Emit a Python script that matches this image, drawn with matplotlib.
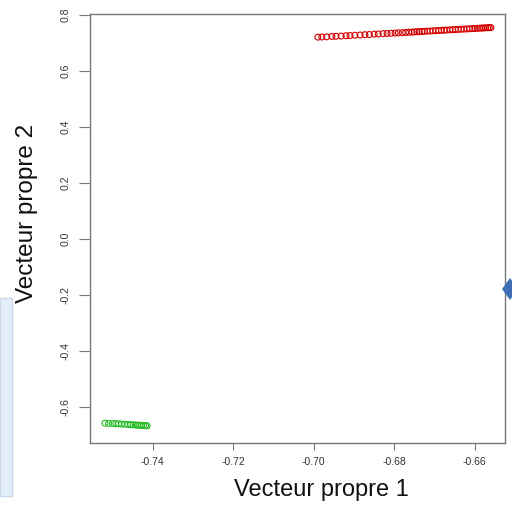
import matplotlib
matplotlib.use("Agg")
import matplotlib.pyplot as plt
from matplotlib.patches import Rectangle, Polygon

# ---- data ----
red_x = [-0.6990, -0.6980, -0.6968, -0.6955, -0.6945, -0.6932, -0.6920, -0.6910,
         -0.6898, -0.6885, -0.6873, -0.6862, -0.6850, -0.6840, -0.6828, -0.6818,
         -0.6808, -0.6798, -0.6790, -0.6780, -0.6772, -0.6764, -0.6756, -0.6750,
         -0.6744, -0.6738, -0.6731, -0.6725, -0.6718, -0.6711, -0.6704, -0.6697,
         -0.6690, -0.6683, -0.6676, -0.6670, -0.6662, -0.6655, -0.6648, -0.6641,
         -0.6634, -0.6627, -0.6620, -0.6613, -0.6606, -0.6600, -0.6594, -0.6588,
         -0.6583, -0.6578, -0.6573, -0.6568, -0.6564, -0.6560]
red_y = [0.7212, 0.7218, 0.7225, 0.7238, 0.7244, 0.7252, 0.7265, 0.7270,
         0.7281, 0.7290, 0.7302, 0.7308, 0.7320, 0.7326, 0.7338, 0.7344,
         0.7352, 0.7360, 0.7368, 0.7374, 0.7382, 0.7388, 0.7394, 0.7400,
         0.7406, 0.7410, 0.7416, 0.7421, 0.7428, 0.7432, 0.7438, 0.7444,
         0.7450, 0.7455, 0.7462, 0.7466, 0.7474, 0.7478, 0.7485, 0.7490,
         0.7496, 0.7501, 0.7508, 0.7512, 0.7519, 0.7523, 0.7529, 0.7533,
         0.7538, 0.7542, 0.7546, 0.7550, 0.7553, 0.7556]
green_x = [-0.7519, -0.7510, -0.7500, -0.7492, -0.7485, -0.7478, -0.7470, -0.7462,
           -0.7455, -0.7449, -0.7443, -0.7438, -0.7433, -0.7428, -0.7423, -0.7418,
           -0.7414]
green_y = [-0.6580, -0.6588, -0.6594, -0.6600, -0.6606, -0.6612, -0.6620, -0.6628,
           -0.6634, -0.6640, -0.6646, -0.6652, -0.6656, -0.6662, -0.6666, -0.6670,
           -0.6674]
x_ticks = [-0.74, -0.72, -0.70, -0.68, -0.66]
x_ticklabels = ["-0.74", "-0.72", "-0.70", "-0.68", "-0.66"]
y_ticks = [-0.6, -0.4, -0.2, 0.0, 0.2, 0.4, 0.6, 0.8]
y_ticklabels = ["-0.6", "-0.4", "-0.2", "0.0", "0.2", "0.4", "0.6", "0.8"]
x_label = "Vecteur propre 1"
y_label = "Vecteur propre 2"

plt.rcParams['font.family'] = ['Liberation Sans', 'DejaVu Sans']

W, H = 512, 505
fig = plt.figure(figsize=(W / 100, H / 100), dpi=100)

# decorative slide elements
fig.patches.append(Rectangle((0, 1 - 496 / H), 12 / W, (496 - 298) / H,
                             transform=fig.transFigure, facecolor="#e3eef8",
                             edgecolor="#c9d9ea", linewidth=1, zorder=0))
cx, cy = 510 / W, 1 - 289 / H
fig.patches.append(Polygon([(cx - 8 / W, cy), (cx, cy + 11 / H), (cx + 8 / W, cy), (cx, cy - 11 / H)],
                           closed=True, transform=fig.transFigure,
                           facecolor="#3d6db3", edgecolor="none", zorder=0))

ax = fig.add_axes([90 / W, 1 - 443 / H, 415 / W, 429 / H])
ax.scatter(red_x, red_y, s=18, facecolors="none", edgecolors="#d40000", linewidths=0.8)
ax.scatter(green_x, green_y, s=18, facecolors="none", edgecolors="#22bb22", linewidths=0.8)

ax.set_xlim(-0.7556, -0.6525)
ax.set_ylim(-0.729, 0.804)
ax.set_xticks(x_ticks)
ax.set_xticklabels(x_ticklabels, fontsize=7.5, color="#333333")
ax.set_yticks(y_ticks)
ax.set_yticklabels(y_ticklabels, fontsize=7.5, color="#333333", rotation=90, va="center")
ax.tick_params(axis="x", length=5, width=0.8, color="#777777", pad=5)
ax.tick_params(axis="y", length=8, width=0.8, color="#777777", pad=6)
for s in ax.spines.values():
    s.set_color("#777777")
    s.set_linewidth(1.0)

fig.text(321 / W, 1 - 490 / H, x_label, fontsize=17, ha="center", va="center", color="#111111")
fig.text(27 / W, 1 - 213 / H, y_label, fontsize=17.5, ha="center", va="center",
         rotation=90, color="#111111")

fig.savefig("out.png", dpi=100)
